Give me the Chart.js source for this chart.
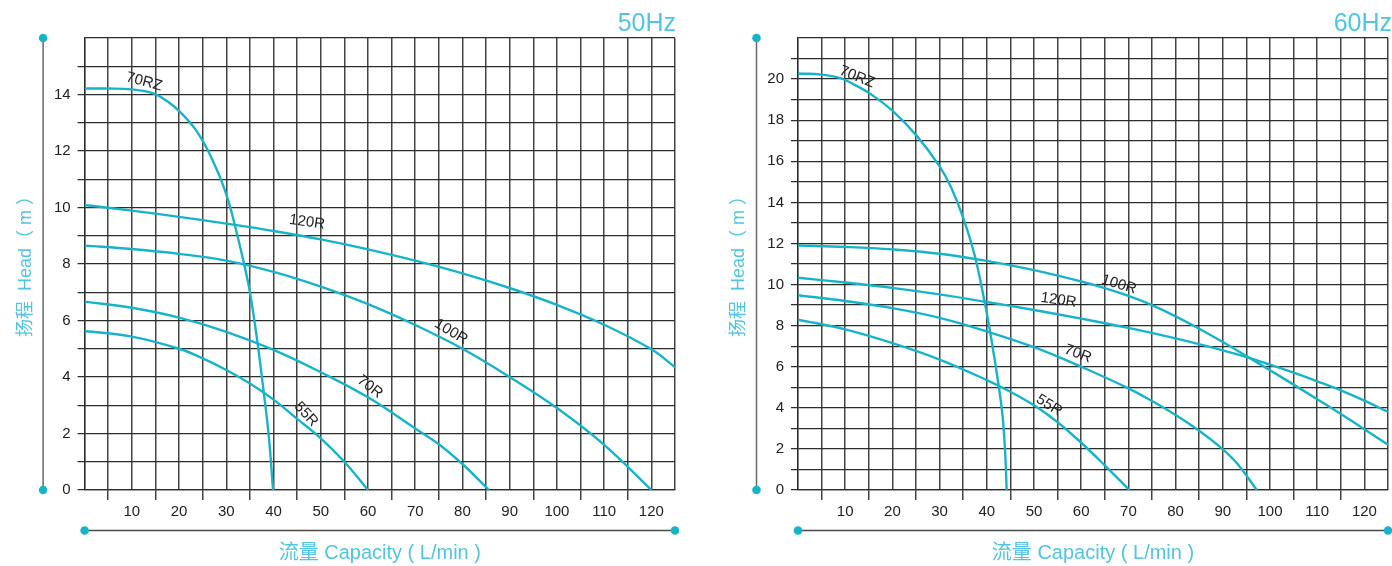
<!DOCTYPE html>
<html>
<head>
<meta charset="utf-8">
<script src="https://cdn.jsdelivr.net/npm/chart.js@4.4.0/dist/chart.umd.min.js"></script>
<style>
body { margin: 0; background: #fff; }
#wrap { position: relative; width: 1392px; height: 566px; overflow: hidden; }
canvas { position: absolute; top: 0; }
#c50 { left: 0; }
#c60 { left: 696px; }
</style>
</head>
<body>
<div id="wrap">
<canvas id="c50" width="696" height="566"></canvas>
<canvas id="c60" width="696" height="566"></canvas>
</div>
<script>
// tick labels
var xTickLabels = [10, 20, 30, 40, 50, 60, 70, 80, 90, 100, 110, 120];
var yTickLabels50 = [0, 2, 4, 6, 8, 10, 12, 14];
var yTickLabels60 = [0, 2, 4, 6, 8, 10, 12, 14, 16, 18, 20];
var modelNames = ['70RZ', '120R', '100R', '70R', '55R'];

// 50Hz : capacity (L/min) / head (m)
var q50_70RZ = [0, 5, 10, 14.5, 17.6, 20.4, 23.3, 25.7, 27.5, 28.9, 30.5, 32, 33.7, 35, 36.5, 37.9, 39, 39.9];
var h50_70RZ = [14.21, 14.21, 14.18, 14.04, 13.75, 13.35, 12.8, 12.15, 11.52, 10.98, 10.2, 9.25, 8.05, 7.0, 5.35, 3.5, 1.9, 0];
var q50_120R = [0, 10, 20, 30, 40, 50, 60, 70, 80, 90, 100, 110, 120, 125];
var h50_120R = [10.09, 9.89, 9.67, 9.43, 9.17, 8.87, 8.52, 8.12, 7.67, 7.15, 6.55, 5.85, 4.98, 4.35];
var q50_100R = [0, 10, 20, 30, 40, 50, 60, 70, 80, 90, 100, 110, 120];
var h50_100R = [8.65, 8.53, 8.36, 8.12, 7.72, 7.2, 6.58, 5.84, 5.0, 4.0, 2.9, 1.6, 0];
var q50_70R = [0, 10, 20, 30, 40, 50, 60, 70, 75, 80, 85.6];
var h50_70R = [6.67, 6.45, 6.1, 5.6, 4.96, 4.17, 3.28, 2.18, 1.62, 0.92, 0];
var q50_55R = [0, 10, 20, 25, 30, 35, 40, 45, 50, 55, 60];
var h50_55R = [5.63, 5.43, 5.0, 4.66, 4.25, 3.77, 3.2, 2.52, 1.83, 1.0, 0];

// 60Hz : capacity (L/min) / head (m)
var q60_70RZ = [0, 5, 9, 12, 15.4, 20, 25.3, 30, 32.5, 35, 37.4, 39.5, 41, 42.5, 43.3, 43.8, 44.05, 44.2];
var h60_70RZ = [20.27, 20.22, 20.05, 19.72, 19.27, 18.46, 17.2, 15.75, 14.7, 13.25, 11.45, 9.2, 7.3, 5.1, 3.7, 2.2, 1.0, 0];
var q60_100R = [0, 10, 20, 30, 40, 50, 60, 65, 70, 75, 80, 85, 90, 95, 100, 105, 110, 115, 120, 125];
var h60_100R = [11.9, 11.83, 11.71, 11.5, 11.15, 10.7, 10.15, 9.83, 9.45, 9.0, 8.45, 7.85, 7.2, 6.52, 5.83, 5.13, 4.42, 3.7, 2.96, 2.2];
var q60_120R = [0, 10, 20, 30, 40, 50, 60, 70, 80, 90, 95, 100, 105, 110, 115, 120, 125];
var h60_120R = [10.33, 10.1, 9.84, 9.52, 9.15, 8.76, 8.34, 7.89, 7.38, 6.8, 6.47, 6.1, 5.71, 5.29, 4.85, 4.35, 3.8];
var q60_70R = [0, 10, 20, 30, 40, 50, 60, 70, 75, 80, 85, 90, 93, 97.2];
var h60_70R = [9.48, 9.2, 8.85, 8.38, 7.72, 6.95, 6.0, 4.95, 4.33, 3.65, 2.88, 1.98, 1.3, 0];
var q60_55R = [0, 10, 20, 30, 40, 45, 50, 55, 60, 65, 70.2];
var h60_55R = [8.29, 7.82, 7.15, 6.35, 5.35, 4.78, 4.12, 3.3, 2.3, 1.2, 0];

// where the model names sit (data units) and their tilt
var notes50 = [
    { q: 12.6, h: 14.45, a: 15 },
    { q: 47.1, h: 9.48, a: 8 },
    { q: 77.6, h: 5.6, a: 31 },
    { q: 60.4, h: 3.65, a: 38 },
    { q: 46.9, h: 2.68, a: 47 }
];
var notes60 = [
    { q: 12.5, h: 20.1, a: 22 },
    { q: 55.2, h: 9.24, a: 8 },
    { q: 68, h: 10.0, a: 17 },
    { q: 59.3, h: 6.63, a: 21 },
    { q: 53.2, h: 4.12, a: 32 }
];

var teal = '#17b4c8';
var titleTeal = '#52c4dd';
var gridColor = '#2c2c2c';

function pts(q, h) {
    return q.map(function (v, i) { return { x: v, y: h[i] }; });
}

function curve(q, h) {
    return {
        data: pts(q, h),
        borderColor: teal,
        borderWidth: 2.4,
        pointRadius: 0,
        fill: false,
        tension: 0.4
    };
}

var decor = {
    id: 'decor',
    afterDraw: function (chart, args, o) {
        var c = chart.ctx, a = chart.chartArea;
        var xs = chart.scales.x, ys = chart.scales.y;
        c.save();
        // left decorative axis
        var ax = a.left - 41.5;
        c.strokeStyle = '#6a6a6a';
        c.lineWidth = 1.5;
        c.beginPath(); c.moveTo(ax, a.top); c.lineTo(ax, a.bottom); c.stroke();
        // bottom decorative axis
        var ay = 530.5;
        c.strokeStyle = '#4a4a4a';
        c.beginPath(); c.moveTo(a.left, ay); c.lineTo(a.right, ay); c.stroke();
        c.fillStyle = teal;
        [[ax, a.top], [ax, a.bottom], [a.left, ay], [a.right, ay]].forEach(function (p) {
            c.beginPath(); c.arc(p[0], p[1], 4.3, 0, Math.PI * 2); c.fill();
        });
        // titles
        c.fillStyle = titleTeal;
        c.textAlign = 'center';
        c.textBaseline = 'middle';
        c.font = '20px "Liberation Sans", "Noto Sans CJK SC", sans-serif';
        c.fillText('流量 Capacity ( L/min )', (a.left + a.right) / 2, 553);
        c.save();
        c.translate(a.left - 59, 262);
        c.rotate(-Math.PI / 2);
        c.font = '18px "Liberation Sans", "Noto Sans CJK SC", sans-serif';
        c.fillText('扬程  Head（ m ）', 0, 0);
        c.restore();
        c.textAlign = 'right';
        c.textBaseline = 'alphabetic';
        c.font = '25px "Liberation Sans", sans-serif';
        c.fillText(o.hz, o.hzRight, 31);
        // model names
        c.fillStyle = '#222';
        c.textAlign = 'center';
        c.textBaseline = 'middle';
        c.font = '15px "Liberation Sans", Arial, sans-serif';
        o.notes.forEach(function (n, i) {
            c.save();
            c.translate(xs.getPixelForValue(n.q), ys.getPixelForValue(n.h));
            c.rotate(n.a * Math.PI / 180);
            c.fillText(modelNames[i], 0, 0);
            c.restore();
        });
        c.restore();
    }
};

function makeChart(id, sets, yMax, yLabels, yAxisW, rightPad, hz, hzRight, notes) {
    var tickFont = { family: '"Liberation Sans", Arial, sans-serif', size: 15 };
    return new Chart(document.getElementById(id), {
        type: 'line',
        data: { datasets: sets },
        options: {
            responsive: false,
            animation: false,
            layout: { padding: { top: 38, right: rightPad, left: 0, bottom: 0 } },
            plugins: {
                legend: { display: false },
                tooltip: { enabled: false },
                decor: { hz: hz, hzRight: hzRight, notes: notes }
            },
            scales: {
                x: {
                    type: 'linear',
                    min: 0, max: 125,
                    ticks: {
                        stepSize: 5, autoSkip: false, maxRotation: 0,
                        padding: 3, color: '#222', font: tickFont,
                        callback: function (v) { return xTickLabels.indexOf(v) >= 0 ? String(v) : ''; }
                    },
                    grid: {
                        color: '#444', lineWidth: 1.5, tickLength: 10,
                        tickColor: function (ctx) {
                            var v = ctx.tick ? ctx.tick.value : 0;
                            return (v % 10 === 5 && v < 125) ? '#444' : 'rgba(0,0,0,0)';
                        }
                    },
                    border: { color: gridColor, width: 1.3 },
                    afterFit: function (s) { s.height = 76; }
                },
                y: {
                    min: 0, max: yMax,
                    ticks: {
                        stepSize: 1, autoSkip: false, padding: 7, color: '#222', font: tickFont,
                        callback: function (v) { return yLabels.indexOf(v) >= 0 ? String(v) : ''; }
                    },
                    grid: {
                        color: gridColor, lineWidth: 1.25, tickLength: 7,
                        tickColor: function (ctx) {
                            var v = ctx.tick ? ctx.tick.value : 0;
                            return v < yMax ? gridColor : 'rgba(0,0,0,0)';
                        }
                    },
                    border: { color: gridColor, width: 1.3 },
                    afterFit: function (s) { s.width = yAxisW; }
                }
            }
        },
        plugins: [decor]
    });
}

makeChart('c50', [
    curve(q50_70RZ, h50_70RZ),
    curve(q50_120R, h50_120R),
    curve(q50_100R, h50_100R),
    curve(q50_70R, h50_70R),
    curve(q50_55R, h50_55R)
], 16, yTickLabels50, 84.6, 21, '50Hz', 676, notes50);

makeChart('c60', [
    curve(q60_70RZ, h60_70RZ),
    curve(q60_120R, h60_120R),
    curve(q60_100R, h60_100R),
    curve(q60_70R, h60_70R),
    curve(q60_55R, h60_55R)
], 22, yTickLabels60, 102, 4, '60Hz', 696, notes60);
</script>
</body>
</html>
